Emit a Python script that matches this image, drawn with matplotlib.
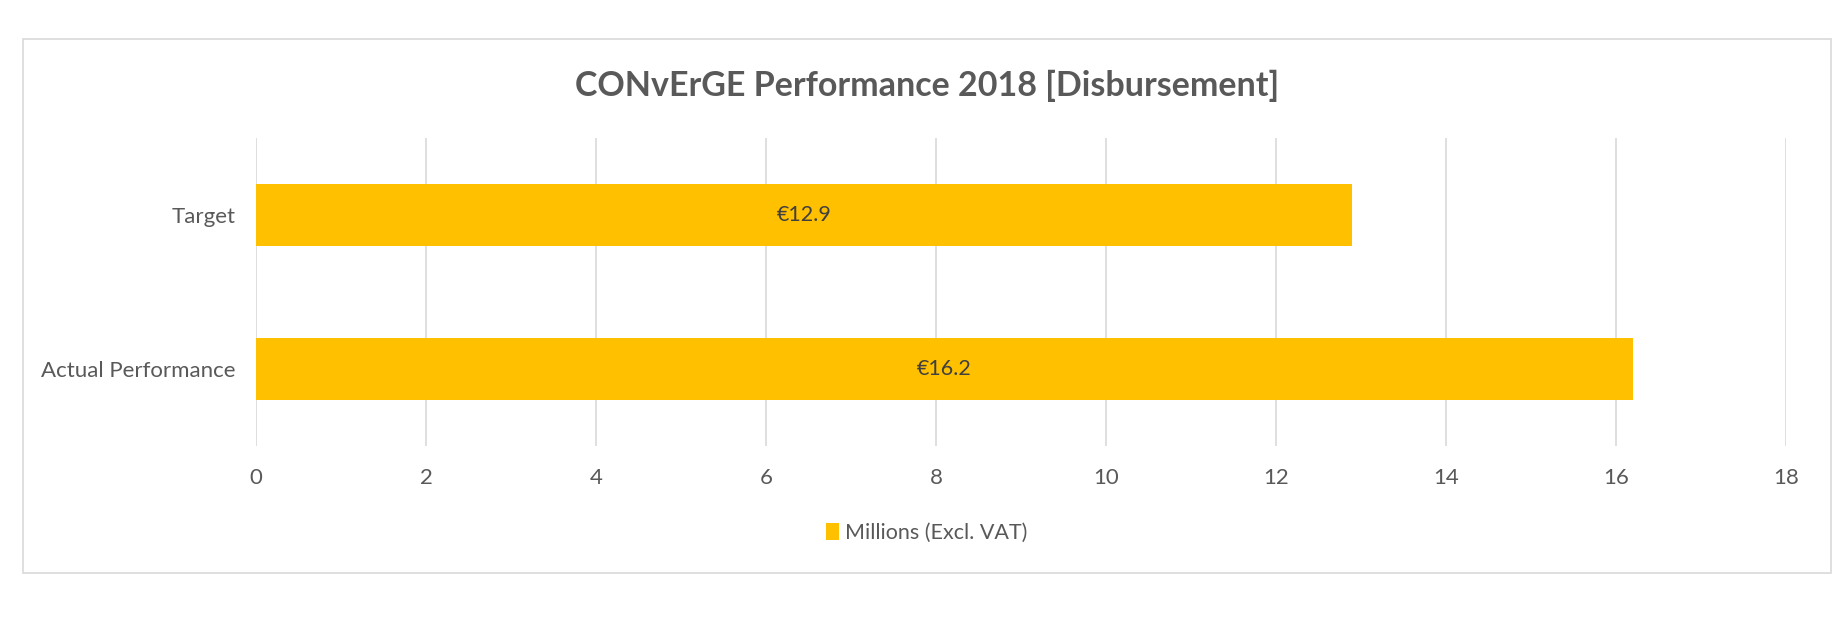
import matplotlib
matplotlib.use("Agg")
import matplotlib.pyplot as plt
from matplotlib.patches import Rectangle, Patch

categories = ["Actual Performance", "Target"]
values = [16.2, 12.9]
value_labels = ["€16.2", "€12.9"]
series_name = "Millions (Excl. VAT)"
title = "CONvErGE Performance 2018 [Disbursement]"
xticks = [0, 2, 4, 6, 8, 10, 12, 14, 16, 18]

plt.rcParams['font.family'] = ['Lato', 'DejaVu Sans']
W, H = 1840, 633
fig = plt.figure(figsize=(W/100, H/100), dpi=100)
fig.patch.set_facecolor("white")

# chart area border
fig.add_artist(Rectangle((23/W, 1-573/H), (1831-23)/W, (573-39)/H,
                         transform=fig.transFigure, fill=False,
                         edgecolor="#D9D9D9", linewidth=1.2))

ax = fig.add_axes([256/W, 1-446/H, (1786-256)/W, (446-138)/H])
bar_color = "#FFC000"
ypos = list(range(len(categories)))
ax.barh(ypos, values, height=0.4, color=bar_color, zorder=3)
for y, v, lab in zip(ypos, values, value_labels):
    ax.text(v/2, y, lab, ha="center", va="center", fontsize=15.5, color="#404040", zorder=4)

ax.set_xlim(0, 18)
ax.set_ylim(-0.5, 1.5)
ax.set_xticks(xticks)
ax.set_xticklabels([str(t) for t in xticks])
ax.set_yticks(ypos)
ax.set_yticklabels(categories)
ax.tick_params(axis="both", length=0, colors="#595959", labelsize=16)
ax.tick_params(axis="x", pad=16)
ax.tick_params(axis="y", pad=15)
ax.grid(axis="x", color="#D9D9D9", linewidth=1.2, zorder=0)
for s in ax.spines.values():
    s.set_visible(False)

fig.text((23+1831)/2/W, 1-86/H, title, ha="center", va="center", fontsize=24.5,
         fontweight="bold", color="#595959")

fig.legend(handles=[Patch(facecolor=bar_color, edgecolor="none")], labels=[series_name],
           loc="center", bbox_to_anchor=((23+1831)/2/W, 1-533/H), frameon=False,
           fontsize=15.5, labelcolor="#595959", handlelength=0.6, handleheight=0.8,
           handletextpad=0.3)

fig.savefig("out.png", dpi=100)
